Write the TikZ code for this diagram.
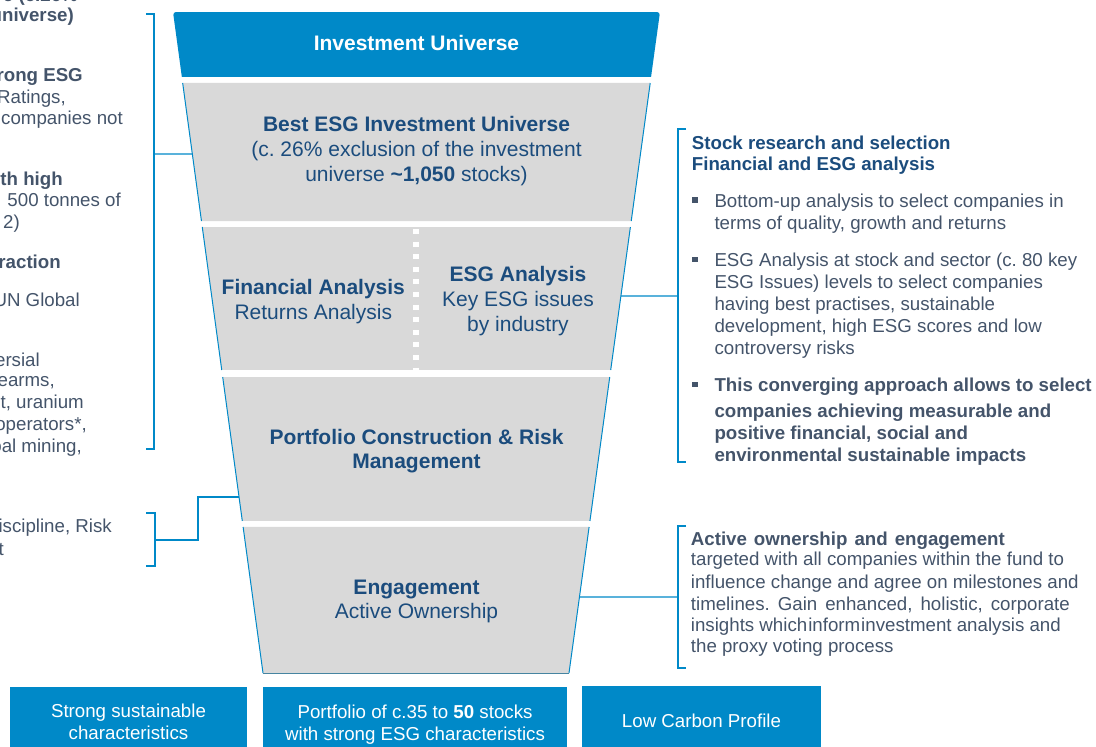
\documentclass[tikz,border=0pt]{standalone}
\usepackage{fontspec}
\setmainfont{Liberation Sans}
\usetikzlibrary{calc}
\definecolor{funnelblue}{RGB}{0,137,200}
\definecolor{funnelgrey}{RGB}{217,217,217}
\definecolor{navytext}{RGB}{27,76,125}
\definecolor{slatetext}{RGB}{68,84,106}

\tikzstyle{stagebold} = [anchor=base,inner sep=0pt,text=navytext,font=\fontsize{21}{25}\selectfont\bfseries]
\tikzstyle{stagetext} = [anchor=base,inner sep=0pt,text=navytext,font=\fontsize{21}{25}\selectfont]
\tikzstyle{sidetext} = [anchor=base west,inner sep=0pt,text=slatetext,font=\fontsize{18.7}{22}\selectfont]
\tikzstyle{cuttext} = [anchor=base east,inner sep=0pt,text=slatetext,font=\fontsize{18.7}{22}\selectfont]
\tikzstyle{edgeline} = [draw=funnelblue,line width=1pt]
\tikzstyle{bracketline} = [draw=funnelblue,line width=1.2pt]
\tikzstyle{outcome} = [fill=funnelblue,text=white,align=center,inner sep=0pt,minimum height=70pt,font=\fontsize{18.7}{22}\selectfont]

\begin{document}
\frenchspacing
\begin{tikzpicture}[x=1pt,y=-1pt]
    \useasboundingbox (0,0) rectangle (1096,747);
    \clip (0,0) rectangle (1096,747);

    \coordinate (tl) at (173,12);
    \coordinate (tr) at (660,12);
    \coordinate (bl) at (263,673);
    \coordinate (br) at (569,673);

    % funnel
    \fill[funnelblue] ($(tl)!0.0983!(bl)$) [rounded corners=3pt] -- (tl) -- (tr) [sharp corners] -- ($(tr)!0.0983!(br)$) -- cycle;
    \foreach \a/\b in {0.1074/0.3162, 0.3253/0.5416, 0.5522/0.7700, 0.7791/1}
    {
      \fill[funnelgrey] ($(tl)!\a!(bl)$) -- ($(tr)!\a!(br)$) -- ($(tr)!\b!(br)$) -- ($(tl)!\b!(bl)$) -- cycle;
      \draw[edgeline] ($(tl)!\a!(bl)$) -- ($(tl)!\b!(bl)$);
      \draw[edgeline] ($(tr)!\a!(br)$) -- ($(tr)!\b!(br)$);
    }
    \draw[edgeline,draw=funnelblue!45!gray] (bl) -- (br);
    \draw[white,line width=5.5pt,dash pattern=on 5pt off 7.6pt] (416,229) -- (416,370);

    \node[stagebold,text=white] (universe) at (416.5,50.7) {Investment Universe};
    \foreach \name/\x/\y/\txt in {
      best/416.5/131.7/Best ESG Investment Universe,
      fin/313.3/294/Financial Analysis,
      esg/518/281.7/ESG Analysis,
      port/416.5/444/Portfolio Construction \& Risk,
      mgmt/416.5/468.3/Management,
      engage/416.5/594.3/Engagement}
    {
      \node[stagebold] (\name) at (\x,\y) {\txt};
    }
    \foreach \name/\x/\y/\txt in {
      excl/416.5/156.7/(c. 26\% exclusion of the investment,
      count/416.5/181.7/{universe \textbf{\textasciitilde1,050} stocks)},
      returns/313.3/319/Returns Analysis,
      keyesg/518/306.7/Key ESG issues,
      industry/518/331.7/by industry,
      owner/416.5/618.3/Active Ownership}
    {
      \node[stagetext] (\name) at (\x,\y) {\txt};
    }

    % left side, cut by the page edge
    \foreach \name/\x/\y/\txt in {
      l1/78/1/e (c.26\%, l2/74/21.7/universe), l3/83/81.7/rong ESG,
      l6/63/185/th high, l9/61/268.3/raction}
    {
      \node[cuttext,font=\fontsize{18.7}{22}\selectfont\bfseries] (\name) at (\x,\y) {\txt};
    }
    \foreach \name/\x/\y/\txt in {
      l4/66/103.3/{Ratings,}, l5/123/124/companies not, l7/121/206.7/500 tonnes of,
      l8/20/228.5/2), l10/80/306/UN Global, l11/40/366/ersial, l12/55/386.7/{earms,},
      l13/84/408.3/{t, uranium}, l14/87/430/{operators*,}, l15/82/452/{coal mining,},
      l16/112/532.3/{iscipline, Risk}, l17/4/555.7/t}
    {
      \node[cuttext] (\name) at (\x,\y) {\txt};
    }

    % right side
    \node[sidetext,text=navytext,font=\fontsize{18.7}{22}\selectfont\bfseries] (stock) at (691.7,149.3) {Stock research and selection};
    \node[sidetext,text=navytext,font=\fontsize{18.7}{22}\selectfont\bfseries] (fanal) at (691.7,170.7) {Financial and ESG analysis};
    \foreach \name/\y/\txt in {
      r1/207.3/Bottom-up analysis to select companies in,
      r2/229.3/{terms of quality, growth and returns},
      r3/266.7/ESG Analysis at stock and sector (c. 80 key,
      r4/288.7/ESG Issues) levels to select companies,
      r5/310.7/{having best practises, sustainable},
      r6/332.7/{development, high ESG scores and low},
      r7/354.7/controversy risks}
    {
      \node[sidetext] (\name) at (714.3,\y) {\txt};
    }
    \foreach \name/\y/\txt in {
      r8/391.7/This converging approach allows to select,
      r9/417.3/companies achieving measurable and,
      r10/439.3/{positive financial, social and},
      r11/461.7/environmental sustainable impacts}
    {
      \node[sidetext,font=\fontsize{18.7}{22}\selectfont\bfseries] (\name) at (714.3,\y) {\txt};
    }
    \foreach \name/\y in {dot1/199.8, dot2/259.2, dot3/384.2}
    {
      \node[fill=slatetext,inner sep=0pt,minimum size=5.4pt] (\name) at (694.8,\y) {};
    }

    \node[sidetext,font=\fontsize{18.7}{22}\selectfont\bfseries] (active) at (690.7,545) {\makebox[314pt][s]{Active ownership and engagement}};
    \foreach \name/\y/\txt in {
      e1/565/targeted with all companies within the fund to,
      e2/588.3/influence change and agree on milestones and,
      e3/610/{\makebox[379pt][s]{timelines. Gain enhanced, holistic, corporate}},
      e4/631.7/insights which\hspace{1pt}inform\hspace{1pt}investment analysis and,
      e5/652.7/the proxy voting process}
    {
      \node[sidetext] (\name) at (690.7,\y) {\txt};
    }

    % outcome boxes
    \node[outcome,minimum width=237pt] (strong) at (128.5,722) {Strong sustainable\\characteristics};
    \node[outcome,minimum width=304pt,minimum height=75pt] (portfolio) at (415,724.5) {Portfolio of c.35 to \textbf{50} stocks\\with strong ESG characteristics};
    \node[outcome,minimum width=239pt] (carbon) at (701.5,721) {Low Carbon Profile};

    %brackets and connectors
    \coordinate (lbmid) at (154,154);
    \coordinate (lfun) at ($(tl)!{142/661}!(bl)$);
    \coordinate (lb2mid) at (155,540);
    \coordinate (lfun2) at ($(tl)!{485/661}!(bl)$);
    \coordinate (rbmid) at (678,296);
    \coordinate (rfun) at ($(tr)!{284/661}!(br)$);
    \coordinate (rb2mid) at (678,597);
    \coordinate (rfun2) at ($(tr)!{585/661}!(br)$);

    \draw[bracketline] (146,14) -- (154,14) -- (154,449) -- (146,449);
    \draw[bracketline] (146,513) -- (155,513) -- (155,566) -- (146,566);
    \draw[bracketline] (686,129) -- (678,129) -- (678,462) -- (686,462);
    \draw[bracketline] (686,526) -- (678,526) -- (678,668) -- (686,668);

    \draw[bracketline] (lbmid) -- (lfun);
    \draw[bracketline] (lb2mid) -- (198,540) |- (lfun2);
    \draw[bracketline] (rfun) -- (rbmid);
    \draw[bracketline] (rfun2) -- (rb2mid);
\end{tikzpicture}
\end{document}
